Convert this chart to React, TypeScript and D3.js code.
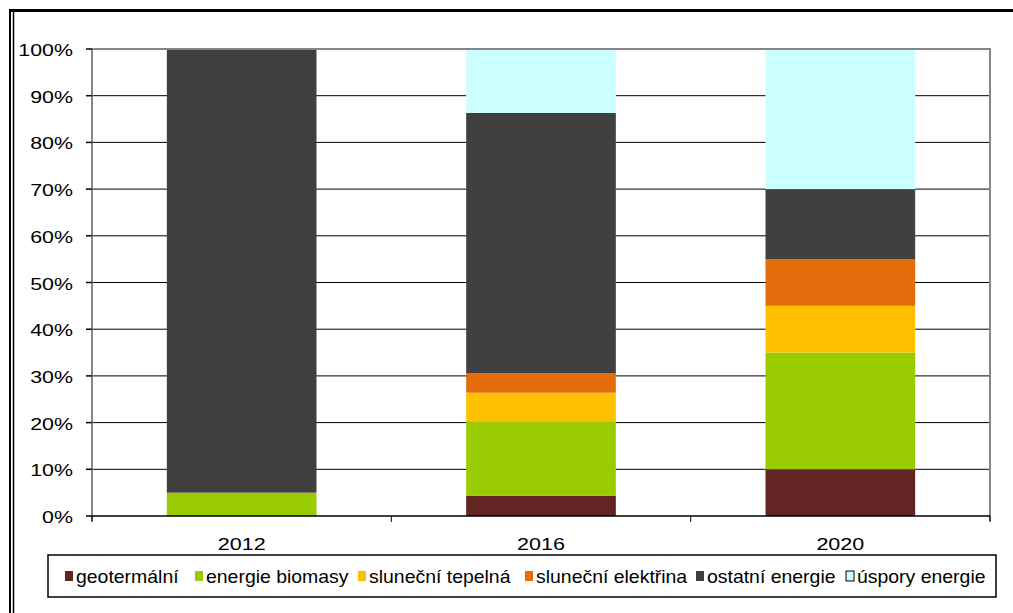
import React from 'react';
import * as d3 from 'd3';

// categories and series (share of each source, %)
const years = ['2012', '2016', '2020'];
const seriesNames = [
  'geotermální',
  'energie biomasy',
  'sluneční tepelná',
  'sluneční elektřina',
  'ostatní energie',
  'úspory energie',
];
const geotermalni = [0, 4.3, 10];
const biomasa = [5, 16, 25];
const slunecniTepelna = [0, 6.1, 10];
const slunecniElektrina = [0, 4.2, 10];
const ostatni = [95, 55.7, 15];
const uspory = [0, 13.7, 30];
const yTicks = [0, 0.1, 0.2, 0.3, 0.4, 0.5, 0.6, 0.7, 0.8, 0.9, 1];

const colors = ['#632523', '#99cc00', '#ffc000', '#e46c0a', '#404040', '#ccffff'];

const W = 1013;
const H = 613;
const margin = { left: 92, right: 23, top: 49, bottom: 97 };
const font = '"Liberation Sans", Arial, sans-serif';

export default function App() {
  const allSeries = [geotermalni, biomasa, slunecniTepelna, slunecniElektrina, ostatni, uspory];
  const rows = years.map((yr, i) => {
    const row: Record<string, any> = { year: yr };
    seriesNames.forEach((n, k) => (row[n] = allSeries[k][i]));
    return row;
  });
  const stacked = d3.stack<any>().keys(seriesNames).offset(d3.stackOffsetExpand)(rows);

  const x = d3
    .scaleBand()
    .domain(years)
    .range([margin.left, W - margin.right])
    .paddingInner(0.5)
    .paddingOuter(0.25);
  const y = d3
    .scaleLinear()
    .domain([0, 1])
    .range([H - margin.bottom, margin.top]);

  const x0 = margin.left;
  const x1 = W - margin.right;
  const yb = y(0);
  const yt = y(1);
  const pct = d3.format('.0%');

  // legend layout (square left edges)
  const legendX = [65, 195, 358, 525, 696, 846];

  const step = x.step();
  const catEdges = d3.range(years.length + 1).map((i) => x0 + i * step);

  return (
    <div style={{ position: 'absolute', left: 0, top: 0 }}>
      <svg width={W} height={H} style={{ display: 'block', background: '#fff' }}>
        {/* outer frame */}
        <line x1={9} x2={W} y1={10.5} y2={10.5} stroke="#000" strokeWidth={3} />
        <line x1={10} x2={10} y1={9} y2={H} stroke="#000" strokeWidth={2} />
        <line x1={13.5} x2={13.5} y1={12} y2={H} stroke="#000" strokeWidth={1.5} />

        {/* gridlines */}
        {yTicks
          .filter((t) => t > 0 && t < 1)
          .map((t) => (
            <line key={t} x1={x0} x2={x1} y1={y(t)} y2={y(t)} stroke="#000" strokeWidth={1} />
          ))}

        {/* bars */}
        {stacked.map((layer, k) => (
          <g key={layer.key} fill={colors[k]}>
            {layer.map((d, i) =>
              d[1] - d[0] > 0 ? (
                <rect
                  key={i}
                  x={x(years[i])}
                  width={x.bandwidth()}
                  y={y(d[1])}
                  height={y(d[0]) - y(d[1])}
                />
              ) : null
            )}
          </g>
        ))}

        {/* plot border */}
        <line x1={x0} x2={x1} y1={yt} y2={yt} stroke="#868686" strokeWidth={2} />
        <line x1={x1} x2={x1} y1={yt - 1} y2={yb + 5} stroke="#868686" strokeWidth={2} />
        <line x1={x0} x2={x0} y1={yt - 1} y2={yb + 5} stroke="#868686" strokeWidth={2} />

        {/* x axis */}
        <line x1={x0} x2={x1} y1={yb} y2={yb} stroke="#000" strokeWidth={1.5} />
        {catEdges.map((cx, i) => (
          <line key={i} x1={cx} x2={cx} y1={yb} y2={yb + 6} stroke="#000" strokeWidth={1} />
        ))}
        {years.map((yr) => (
          <text
            key={yr}
            transform={`translate(${x(yr)! + x.bandwidth() / 2},${yb + 34}) scale(1.29,1)`}
            textAnchor="middle"
            fontFamily={font}
            fontSize={16.7}
            fill="#000"
          >
            {yr}
          </text>
        ))}

        {/* y axis ticks */}
        {yTicks.map((t) => (
          <g key={t}>
            <line x1={x0 - 6} x2={x0} y1={y(t)} y2={y(t)} stroke="#000" strokeWidth={1.5} />
            <text
              transform={`translate(73,${y(t) + 7}) scale(1.28,1)`}
              textAnchor="end"
              fontFamily={font}
              fontSize={16.7}
              fill="#000"
            >
              {pct(t)}
            </text>
          </g>
        ))}

        {/* legend */}
        <rect x={48} y={555} width={948} height={42} fill="#fff" stroke="#000" strokeWidth={1.5} />
        {seriesNames.map((n, k) => (
          <g key={n}>
            <rect
              x={legendX[k]}
              y={571}
              width={8}
              height={10}
              fill={colors[k]}
              stroke={k === 5 ? '#000' : 'none'}
              strokeWidth={1}
            />
            <text
              transform={`translate(${legendX[k] + 11},583) scale(1.08,1)`}
              fontFamily={font}
              fontSize={18}
              fill="#000"
            >
              {n}
            </text>
          </g>
        ))}
      </svg>
    </div>
  );
}
